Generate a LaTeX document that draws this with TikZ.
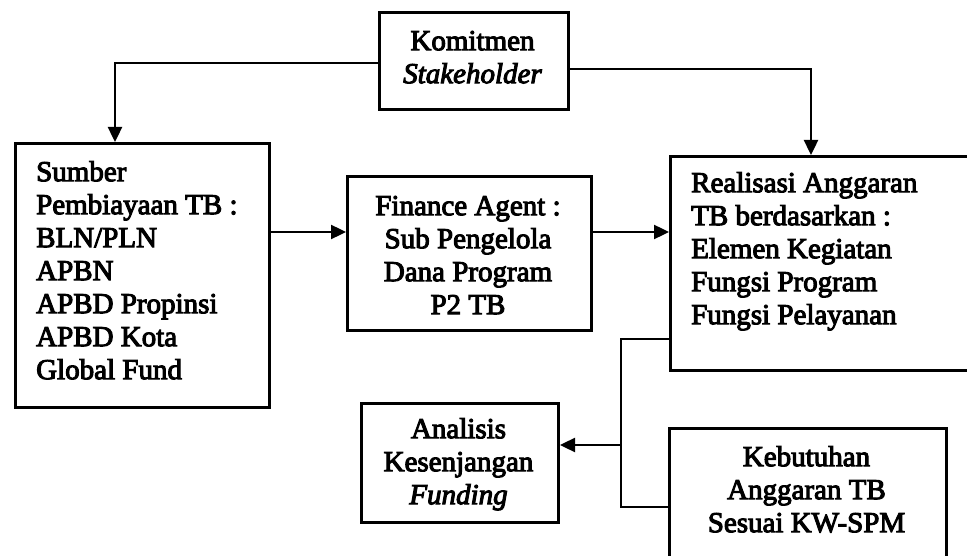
\documentclass[tikz,border=0pt]{standalone}
\usepackage{fontspec}
\setmainfont{Liberation Serif}[UprightFeatures={FakeBold=3.5},ItalicFeatures={FakeBold=3.5}]
\usetikzlibrary{arrows.meta}
\newcommand\firstln{\rule{0pt}{25pt}}
\begin{document}
\begin{tikzpicture}[x=1pt,y=-1pt,
  box/.style={draw,line width=3pt,rectangle,inner sep=0pt,anchor=north west},
  txt/.style={inner sep=0pt,font=\fontsize{29}{33}\selectfont},
  arr/.style={line width=2.4pt,-{Triangle[length=15pt,width=14pt]}},
  lnk/.style={line width=2.4pt}]
\useasboundingbox (0,0) rectangle (967,556);
% boxes
\node[box,minimum width=189,minimum height=97] (komit) at (378,11) {};
\node[box,minimum width=254,minimum height=264] (src) at (14,142) {};
\node[box,minimum width=244,minimum height=154] (mid) at (346,175) {};
\node[box,minimum width=310,minimum height=214] (real) at (669,155) {};
\node[box,minimum width=197,minimum height=119] (ana) at (360,402) {};
\node[box,minimum width=277,minimum height=150] (keb) at (668,427) {};
% texts
\node[txt,anchor=north,align=center] (komitt) at (472.5,25) {\firstln Komitmen\\\textit{Stakeholder}};
\node[txt,anchor=north west,align=left] (srct) at (36,156) {\firstln Sumber\\Pembiayaan TB :\\BLN/PLN\\APBN\\APBD Propinsi\\APBD Kota\\Global Fund};
\node[txt,anchor=north,align=center] (midt) at (468,190) {\firstln Finance Agent :\\Sub Pengelola\\Dana Program\\P2 TB};
\node[txt,anchor=north west,align=left] (realt) at (691,167) {\firstln Realisasi Anggaran\\TB berdasarkan :\\Elemen Kegiatan\\Fungsi Program\\Fungsi Pelayanan};
\node[txt,anchor=north,align=center] (anat) at (458.5,413) {\firstln Analisis\\Kesenjangan\\\textit{Funding}};
\node[txt,anchor=north,align=center] (kebt) at (806.5,441) {\firstln Kebutuhan\\Anggaran TB\\Sesuai KW-SPM};
% connectors
\draw[arr] (komit.west |- 0,63) -| (src.north -| 115,0);
\draw[arr] (komit.east |- 0,69) -| (real.north -| 811,0);
\draw[arr] (src.east |- 0,232) -- (mid.west |- 0,232);
\draw[arr] (mid.east |- 0,232) -- (real.west |- 0,232);
\coordinate (j) at (621,445);
\draw[lnk] (real.west |- 0,339) -| (j) |- (keb.west |- 0,507);
\draw[arr] (j) -- (ana.east |- j);
\end{tikzpicture}
\end{document}
